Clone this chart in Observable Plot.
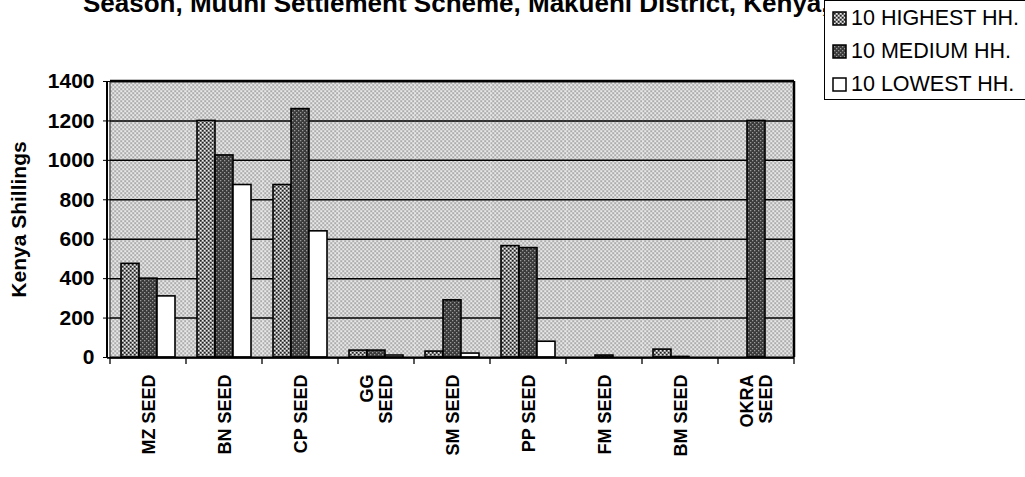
<!DOCTYPE html>
<html><head><meta charset="utf-8">
<script src="https://cdn.jsdelivr.net/npm/d3@7"></script>
<script src="https://cdn.jsdelivr.net/npm/@observablehq/plot@0.6"></script>
<style>
body{margin:0;background:#fff;font-family:"Liberation Sans",Arial,sans-serif;}
#wrap{position:relative;width:1025px;height:477px;overflow:hidden;}
#title{position:absolute;left:83px;top:-12px;width:741px;overflow:hidden;font-weight:bold;font-size:26px;white-space:nowrap;color:#000;z-index:1;}
#legend{position:absolute;left:824px;top:0;width:230px;height:100px;border:1px solid #000;background:#fff;z-index:2;box-sizing:border-box;}
.item{position:absolute;left:7px;display:flex;align-items:center;font-size:21.5px;line-height:24px;color:#000;white-space:nowrap;}
.item svg{margin-right:4px;}
</style></head>
<body>
<div id="wrap">
  <div id="title">Season, Muuni Settlement Scheme, Makueni District, Kenya, 1997</div>
  <div id="legend"></div>
  <div id="chart"></div>
</div>
<svg width="0" height="0" style="position:absolute">
  <defs>
    <pattern id="bgPat" width="4" height="4" patternUnits="userSpaceOnUse">
      <rect width="4" height="4" fill="#e8e8e8"/>
      <rect x="0" y="0" width="1.3" height="1.3" fill="#5a5a5a"/>
      <rect x="2" y="2" width="1.3" height="1.3" fill="#5a5a5a"/>
    </pattern>
    <pattern id="pH" width="4" height="4" patternUnits="userSpaceOnUse">
      <rect width="4" height="4" fill="#9a9a9a"/>
      <rect x="0" y="0" width="1.5" height="1.5" fill="#222"/>
      <rect x="2" y="2" width="1.5" height="1.5" fill="#222"/>
      <rect x="0" y="2" width="1.2" height="1.2" fill="#eee"/>
      <rect x="2" y="0" width="1.2" height="1.2" fill="#eee"/>
    </pattern>
    <pattern id="pM" width="4" height="4" patternUnits="userSpaceOnUse">
      <rect width="4" height="4" fill="#3a3a3a"/>
      <rect x="0" y="0" width="1.3" height="1.3" fill="#999"/>
      <rect x="2" y="2" width="1.3" height="1.3" fill="#999"/>
    </pattern>
    <pattern id="pL" width="4" height="4" patternUnits="userSpaceOnUse">
      <rect width="4" height="4" fill="#fff"/>
    </pattern>
  </defs>
</svg>
<script>
const categories = ["MZ SEED","BN SEED","CP SEED","GG SEED","SM SEED","PP SEED","FM SEED","BM SEED","OKRA SEED"];
const seriesNames = ["10 HIGHEST HH.","10 MEDIUM HH.","10 LOWEST HH."];
const highest = [475, 1200, 875, 35, 30, 565, 0, 40, 0];
const medium  = [400, 1025, 1260, 35, 290, 555, 10, 3, 1200];
const lowest  = [310, 875, 640, 10, 20, 80, 0, 0, 0];
const yTicks = [0, 200, 400, 600, 800, 1000, 1200, 1400];
const wrapLabels = ["GG SEED", "OKRA SEED"];
const patterns = ["url(#pH)", "url(#pM)", "url(#pL)"];

const seriesValues = [highest, medium, lowest];
const data = categories.flatMap((c, i) => seriesNames.map((s, j) => ({cat: c, series: s, value: seriesValues[j][i]})));

const font = '"Liberation Sans", Arial, sans-serif';
const plot = Plot.plot({
  width: 1025, height: 477,
  marginLeft: 106, marginRight: 227, marginTop: 81, marginBottom: 120,
  style: {fontFamily: font, fontSize: "17px", fontWeight: "bold", color: "#000", background: "transparent", overflow: "visible"},
  fx: {domain: categories, padding: 0, label: null, axis: null},
  x: {domain: seriesNames, paddingInner: 0, paddingOuter: 0.52, axis: null},
  y: {domain: [0, 1400], axis: null},
  color: {domain: seriesNames, range: patterns},
  marks: [
    Plot.frame({fill: "url(#bgPat)", stroke: null}),
    Plot.gridY(yTicks.filter(v => v > 0), {stroke: "#000", strokeOpacity: 1, strokeWidth: 1.5}),
    Plot.barY(data, {fx: "cat", x: "series", y: "value", fill: "series", stroke: "#000", strokeWidth: 1.6}),
    Plot.ruleY([0], {stroke: "#000", strokeWidth: 2}),
    Plot.axisY({ticks: yTicks, tickSize: 7, tickPadding: 9, tickFormat: d => String(d), label: "Kenya Shillings", labelAnchor: "center", labelOffset: 99, labelArrow: "none", fontSize: 21, fontWeight: "bold"}),
    Plot.axisFx({anchor: "bottom", tickSize: 0, tickPadding: 17, tickRotate: -90, fontSize: 18, fontWeight: "bold",
      tickFormat: c => wrapLabels.includes(c) ? c.replace(" ", "\n") : c, lineHeight: 1.05})
  ]
});
document.getElementById("chart").appendChild(plot);

// frame lines and category boundary ticks, from Plot's own scales
const fx = plot.scale("fx"), y = plot.scale("y");
const svg = d3.select(plot);
const x0 = fx.apply(categories[0]), x1 = fx.apply(categories[categories.length - 1]) + fx.bandwidth;
const yTop = y.apply(1400), yBot = y.apply(0);
const g = svg.append("g").attr("stroke", "#000").attr("fill", "none");
g.append("line").attr("x1", x0).attr("x2", x1).attr("y1", yTop).attr("y2", yTop).attr("stroke-width", 2.5);
g.append("line").attr("x1", x1).attr("x2", x1).attr("y1", yTop).attr("y2", yBot).attr("stroke-width", 2.5);
g.append("line").attr("x1", x0 - 3).attr("x2", x0 - 3).attr("y1", yTop).attr("y2", yBot + 1).attr("stroke-width", 2);
g.append("line").attr("x1", x0).attr("x2", x0).attr("y1", yTop).attr("y2", yBot).attr("stroke-width", 1);
g.append("line").attr("x1", x0 - 3).attr("x2", x1).attr("y1", yBot + 1).attr("y2", yBot + 1).attr("stroke-width", 1.5);
const bounds = categories.map(c => fx.apply(c)).concat([x1]);
g.selectAll(".bt").data(bounds).join("line").attr("x1", d => d).attr("x2", d => d).attr("y1", yBot).attr("y2", yBot + 7).attr("stroke-width", 1.3);

// legend
const legend = document.getElementById("legend");
seriesNames.forEach((s, i) => {
  const div = document.createElement("div");
  div.className = "item";
  div.style.top = (5 + i * 33) + "px";
  div.innerHTML = `<svg width="15" height="15"><rect x="1" y="1" width="13" height="13" fill="${patterns[i]}" stroke="#000" stroke-width="1.5"/></svg><span>${s}</span>`;
  legend.appendChild(div);
});
</script>
</body></html>
